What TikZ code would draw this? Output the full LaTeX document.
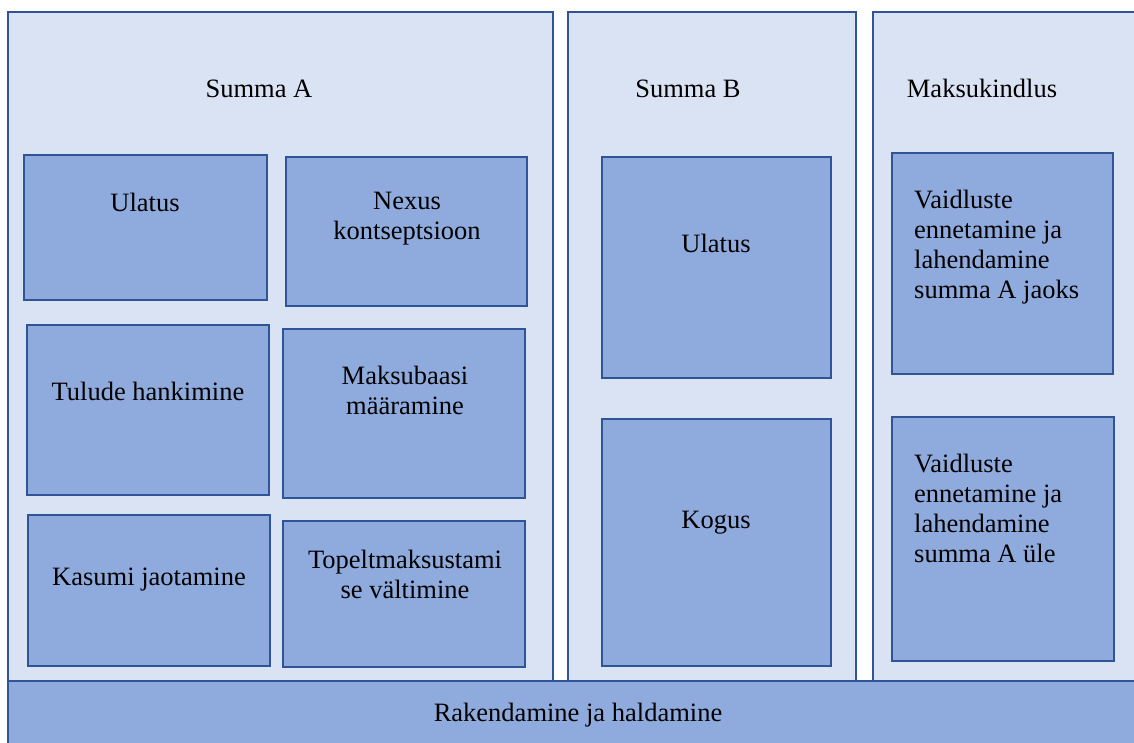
\documentclass[tikz,border=0pt]{standalone}
\usepackage{fontspec}
\setmainfont{Liberation Serif}
\definecolor{paleblue}{HTML}{DAE3F3}
\definecolor{midblue}{HTML}{8FAADC}
\definecolor{edgeblue}{HTML}{2F5597}
\begin{document}
\begin{tikzpicture}[x=1pt,y=-1pt,
  panel/.style={draw=edgeblue,line width=2.6pt,fill=paleblue},
  part/.style={draw=edgeblue,line width=2.6pt,fill=midblue},
  lbl/.style={font=\fontsize{26.5}{30}\selectfont,inner sep=0pt,anchor=base,align=center}]
\useasboundingbox (0,0) rectangle (1134,742);
% three columns
\draw[panel] (8,12) rectangle (553,681) coordinate (panelA);
\draw[panel] (568,12) rectangle (856,681) coordinate (panelB);
\draw[panel] (873,12) rectangle (1150,681) coordinate (panelC);
\node[lbl] (summaA) at (259,97) {Summa A};
\node[lbl] (summaB) at (688,97) {Summa B};
\node[lbl] (kindlus) at (982,97) {Maksukindlus};
% Summa A (base = last line)
\draw[part] (24,155) rectangle (267,300);
\draw[part] (286,157) rectangle (527,306);
\draw[part] (27,325) rectangle (269,495);
\draw[part] (283,329) rectangle (525,498);
\draw[part] (28,515) rectangle (270,666);
\draw[part] (283,521) rectangle (525,667);
\node[lbl] (ulatusA) at (145,211) {Ulatus};
\node[lbl] (nexus) at (407,239) {Nexus\\kontseptsioon};
\node[lbl] (tulud) at (148,400) {Tulude hankimine};
\node[lbl] (baas) at (405,414) {Maksubaasi\\määramine};
\node[lbl] (kasum) at (149,585) {Kasumi jaotamine};
\node[lbl] (topelt) at (405,598) {Topeltmaksustami\\se vältimine};
% Summa B
\draw[part] (602,157) rectangle (831,378);
\draw[part] (602,419) rectangle (831,666);
\node[lbl] (ulatusB) at (716,252) {Ulatus};
\node[lbl] (kogus) at (716,528) {Kogus};
% Maksukindlus
\draw[part] (892,153) rectangle (1113,374);
\draw[part] (892,417) rectangle (1114,661);
\node[lbl,anchor=base west,align=left] (vaidlus1) at (914,298) {Vaidluste\\ennetamine ja\\lahendamine\\summa A jaoks};
\node[lbl,anchor=base west,align=left] (vaidlus2) at (914,562) {Vaidluste\\ennetamine ja\\lahendamine\\summa A üle};
% bottom bar
\draw[part] (8,681) rectangle (1150,760);
\node[lbl] (rakendus) at (578,721) {Rakendamine ja haldamine};
\end{tikzpicture}
\end{document}
